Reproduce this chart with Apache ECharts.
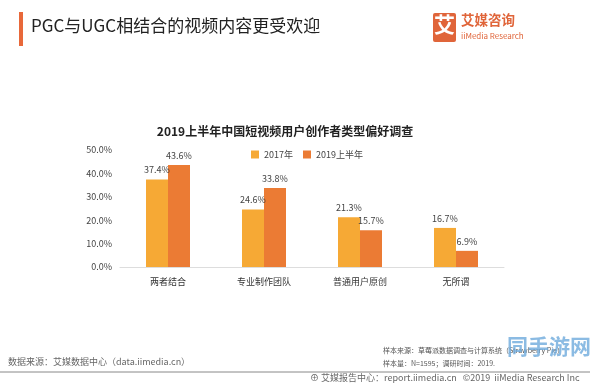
<!DOCTYPE html>
<html><head><meta charset="utf-8">
<script src="https://cdn.jsdelivr.net/npm/echarts@6/dist/echarts.min.js"></script>
<style>html,body{margin:0;padding:0;background:#fff}#c{width:594px;height:383px}</style>
</head><body><div id="c"></div>
<script>
const categories = ['两者结合', '专业制作团队', '普通用户原创', '无所谓'];
const series2017 = [37.4, 24.6, 21.3, 16.7];
const series2019H1 = [43.6, 33.8, 15.7, 6.9];
const seriesNames = ['2017年', '2019上半年'];
const yTicks = [0, 10, 20, 30, 40, 50];

const F = '"Noto Sans CJK SC", "Noto Sans", sans-serif';
const chart = echarts.init(document.getElementById('c'), null, {renderer: 'canvas'});
chart.setOption({
  backgroundColor: '#fff',
  animation: false,
  textStyle: {fontFamily: F},
  title: {
    text: '2019上半年中国短视频用户创作者类型偏好调查',
    left: 280, top: 120, textAlign: 'center',
    textStyle: {fontSize: 12, fontWeight: 'bold', color: '#222', fontFamily: F}
  },
  legend: {
    data: seriesNames, left: 246, top: 145, itemWidth: 8, itemHeight: 8, itemGap: 10,
    icon: 'rect', textStyle: {fontSize: 9, color: '#444', fontFamily: F}
  },
  grid: {left: 120, right: 90, top: 150, bottom: 116, containLabel: false},
  xAxis: {
    type: 'category', data: categories,
    axisLine: {lineStyle: {color: '#ddd'}}, axisTick: {show: false},
    axisLabel: {fontSize: 9, color: '#333', margin: 10, fontFamily: F}
  },
  yAxis: {
    type: 'value', min: yTicks[0], max: yTicks[yTicks.length - 1], interval: 10,
    splitLine: {show: false}, axisLine: {show: false}, axisTick: {show: false},
    axisLabel: {fontSize: 9, color: '#444', margin: 8, formatter: v => v.toFixed(1) + '%', fontFamily: F}
  },
  series: [
    {name: seriesNames[0], type: 'bar', data: series2017, barWidth: 22, barGap: '0%',
     itemStyle: {color: '#F6A935'},
     label: {show: true, position: 'top', fontSize: 9, color: '#444', formatter: p => p.value.toFixed(1) + '%', distance: 5}},
    {name: seriesNames[1], type: 'bar', data: series2019H1, barWidth: 22,
     itemStyle: {color: '#EB7B34'},
     label: {show: true, position: 'top', fontSize: 9, color: '#444', formatter: p => p.value.toFixed(1) + '%', distance: 5}}
  ],
  graphic: [
    {type: 'rect', shape: {x: 19, y: 12, width: 4, height: 34}, style: {fill: '#E8683A'}},
    {type: 'text', left: 31, top: 17, style: {text: 'PGC与UGC相结合的视频内容更受欢迎', font: '17px ' + F, fill: '#222'}},
    {type: 'rect', shape: {x: 433, y: 13, width: 23, height: 29, r: 2}, style: {fill: '#E0653A'}},
    {type: 'text', left: 434, top: 14, style: {text: '艾', font: 'bold 21px ' + F, fill: '#fff'}},
    {type: 'text', left: 461, top: 13, style: {text: '艾媒咨询', font: 'bold 13.5px ' + F, fill: '#E0653A'}},
    {type: 'text', left: 461, top: 32, style: {text: 'iiMedia Research', font: '8px ' + F, fill: '#E0653A'}},
    {type: 'text', left: 8, top: 357, style: {text: '数据来源：艾媒数据中心（data.iimedia.cn）', font: '9px ' + F, fill: '#666'}},
    {type: 'line', shape: {x1: 0, y1: 372, x2: 590, y2: 372}, style: {stroke: '#888', lineWidth: 1}},
    {type: 'text', left: 383, top: 347, style: {text: '样本来源：草莓派数据调查与计算系统（Strawberry Pie）', font: '7px ' + F, fill: '#555'}},
    {type: 'text', left: 383, top: 360, style: {text: '样本量：N=1595；调研时间：2019.', font: '7px ' + F, fill: '#555'}},
    {type: 'text', left: 310, top: 373, style: {text: '⊕ 艾媒报告中心：report.iimedia.cn   ©2019  iiMedia Research Inc', font: '9px ' + F, fill: '#666'}},
    {type: 'text', left: 507, top: 336, style: {text: '同手游网', font: 'bold 21px ' + F, fill: 'rgba(110,170,220,0.8)'}}
  ]
});
</script></body></html>
